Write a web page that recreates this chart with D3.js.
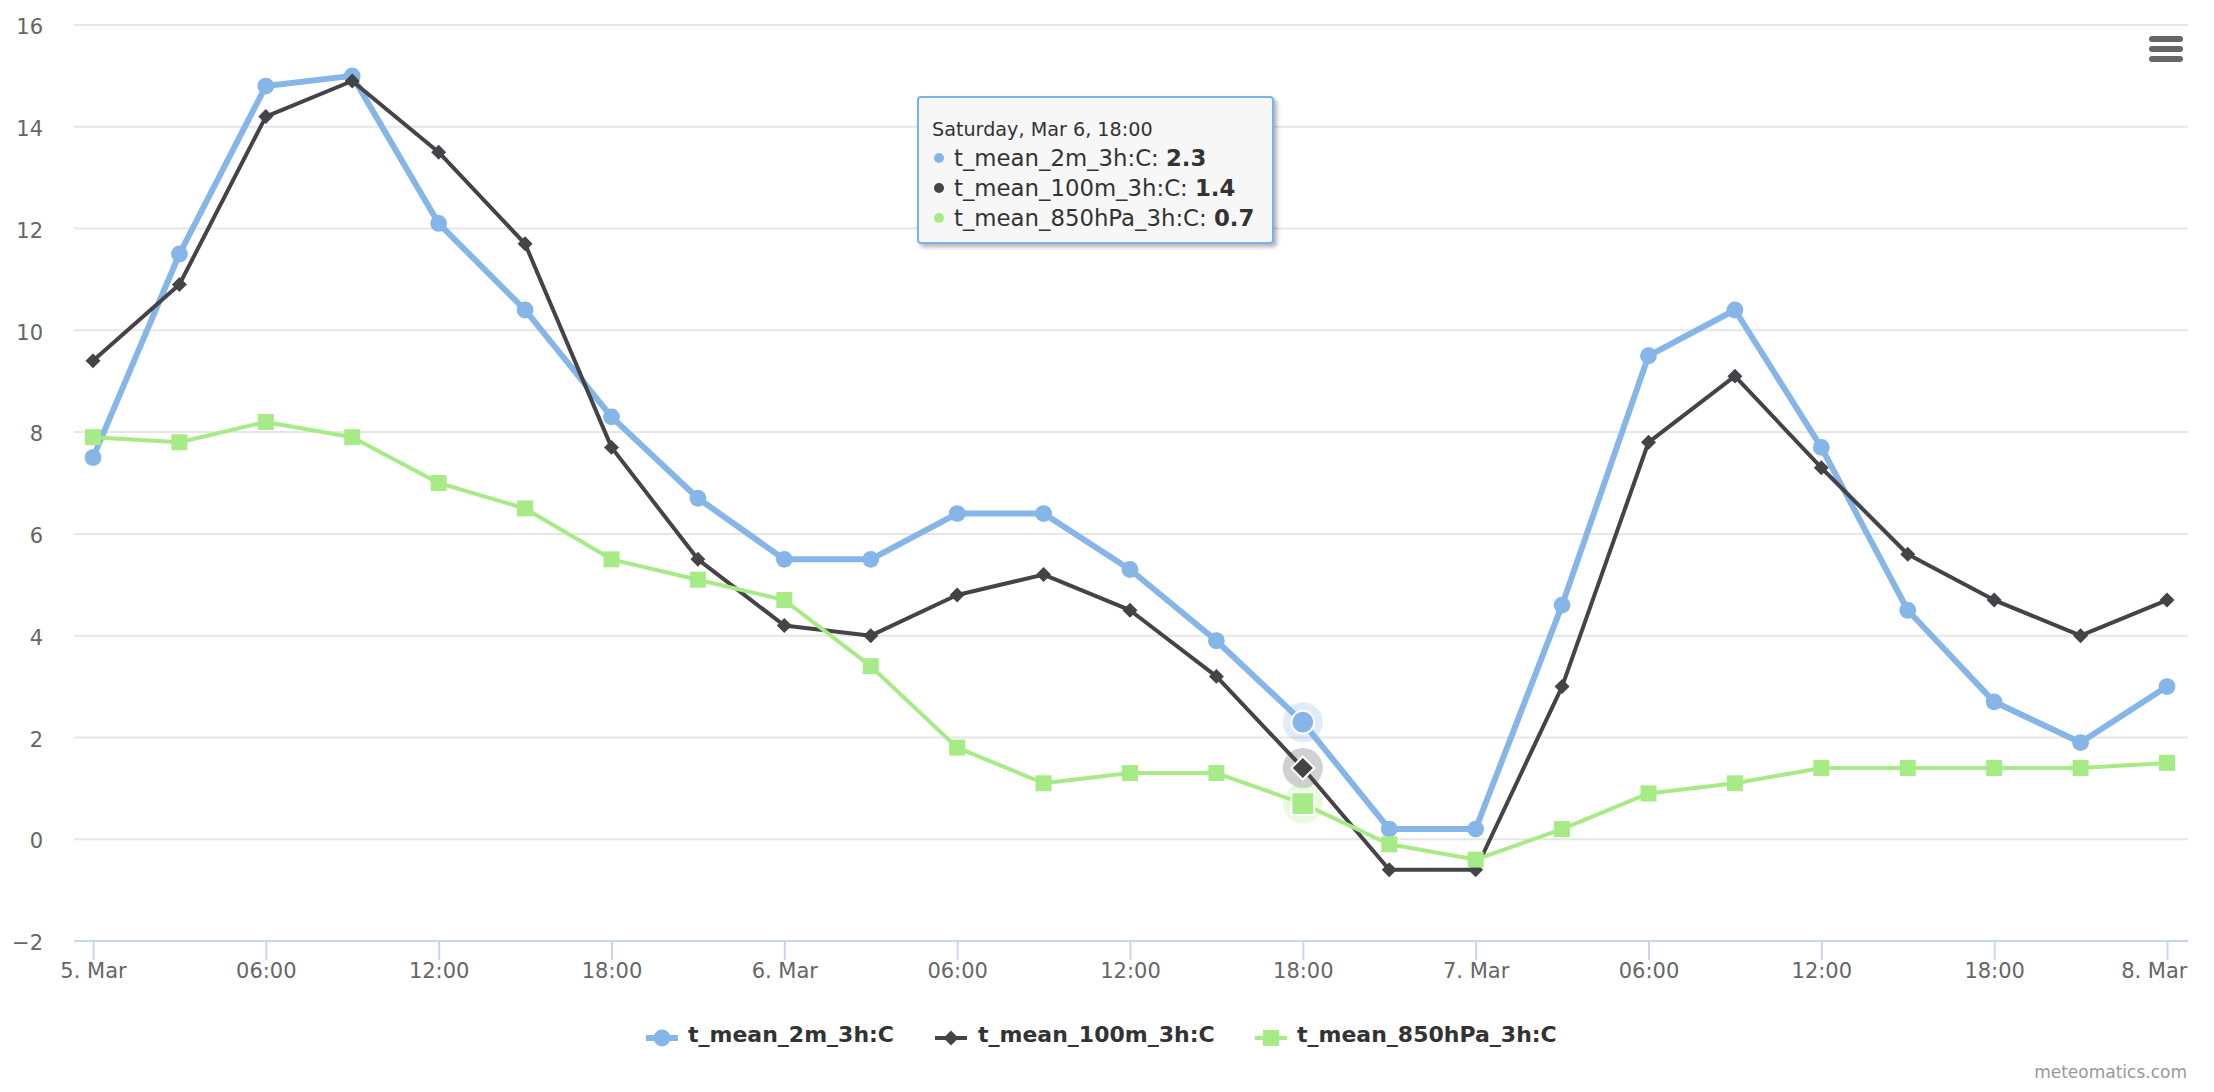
<!DOCTYPE html>
<html><head><meta charset="utf-8">
<script src="https://cdn.jsdelivr.net/npm/d3@7"></script>
<style>
html,body{margin:0;padding:0;background:#fff;overflow:hidden}
svg{display:block}
text{font-family:"DejaVu Sans",sans-serif}
</style></head><body>
<svg id="c" width="2214" height="1092"></svg>
<script>
const hours=[0,3,6,9,12,15,18,21,24,27,30,33,36,39,42,45,48,51,54,57,60,63,66,69,72];
const t2m=[7.5,11.5,14.8,15.0,12.1,10.4,8.3,6.7,5.5,5.5,6.4,6.4,5.3,3.9,2.3,0.2,0.2,4.6,9.5,10.4,7.7,4.5,2.7,1.9,3.0];
const t100m=[9.4,10.9,14.2,14.9,13.5,11.7,7.7,5.5,4.2,4.0,4.8,5.2,4.5,3.2,1.4,-0.6,-0.6,3.0,7.8,9.1,7.3,5.6,4.7,4.0,4.7];
const t850=[7.9,7.8,8.2,7.9,7.0,6.5,5.5,5.1,4.7,3.4,1.8,1.1,1.3,1.3,0.7,-0.1,-0.4,0.2,0.9,1.1,1.4,1.4,1.4,1.4,1.5];
const seriesNames=["t_mean_2m_3h:C","t_mean_100m_3h:C","t_mean_850hPa_3h:C"];
const xTickHours=[0,6,12,18,24,30,36,42,48,54,60,66,72];
const xTickLabels=["5. Mar","06:00","12:00","18:00","6. Mar","06:00","12:00","18:00","7. Mar","06:00","12:00","18:00","8. Mar"];
const yTicks=[-2,0,2,4,6,8,10,12,14,16];
const tooltipTitle="Saturday, Mar 6, 18:00";
const hoverHour=42;
const credit="meteomatics.com";

const colors=["#86b5e8","#434348","#a6eb85"];
const widths=[6,4,4];
const shapes=[d3.symbolCircle,d3.symbolDiamond2,d3.symbolSquare];
const values=[t2m,t100m,t850];

const svg=d3.select("#c");
const x=d3.scaleLinear().domain([0,72]).range([93,2167]);
const y=d3.scaleLinear().domain([-2,16]).range([941,25]);

// grid + y axis
const yAxis=d3.axisLeft(y).tickValues(yTicks).tickSize(0).tickPadding(0).tickFormat(d=>d<0?"\u2212"+Math.abs(d):d);
const gy=svg.append("g").attr("transform","translate(43,2)").call(yAxis);
gy.select(".domain").remove();
gy.selectAll("text").attr("font-size",21).attr("fill","#666").attr("font-family","DejaVu Sans");
svg.append("g").selectAll("line").data(yTicks.filter(d=>d>-2)).join("line")
 .attr("x1",74).attr("x2",2188).attr("y1",d=>y(d)).attr("y2",d=>y(d))
 .attr("stroke","#e6e6e6").attr("stroke-width",2);

// x axis
const xAxis=d3.axisBottom(x).tickValues(xTickHours).tickSize(19).tickPadding(3)
 .tickFormat((d,i)=>xTickLabels[i]);
const gx=svg.append("g").attr("transform","translate(0,941)").call(xAxis);
gx.select(".domain").remove();
gx.selectAll("line").attr("stroke","#ccd6eb").attr("stroke-width",2);
gx.selectAll("text").attr("font-size",21).attr("fill","#666").attr("font-family","DejaVu Sans");
gx.selectAll("text").filter(d=>d===72).attr("text-anchor","end").attr("x",2187-x(72));
svg.append("line").attr("x1",74).attr("x2",2188).attr("y1",941).attr("y2",941)
 .attr("stroke","#ccd6eb").attr("stroke-width",2);

const sizes=[222,143,256];
const line=d3.line().x((d,i)=>x(hours[i])).y(d=>y(d));
values.forEach((vals,s)=>{
  const g=svg.append("g");
  g.append("path").datum(vals).attr("d",line).attr("fill","none")
   .attr("stroke",colors[s]).attr("stroke-width",widths[s]).attr("stroke-linejoin","round");
  g.selectAll("path.m").data(vals).join("path").attr("class","m")
   .attr("transform",(d,i)=>`translate(${x(hours[i])},${y(d)})`)
   .attr("d",d3.symbol().type(shapes[s]).size(sizes[s])())
   .attr("fill",colors[s]);
});
// hover state
const hi=hours.indexOf(hoverHour);
const haloR=[20,20,20], hoverSizes=[410,337,520];
values.forEach((vals,s)=>{
  svg.append("circle").attr("cx",x(hoverHour)).attr("cy",y(vals[hi])).attr("r",haloR[s])
   .attr("fill",colors[s]).attr("opacity",0.25);
});
values.forEach((vals,s)=>{
  svg.append("path").attr("transform",`translate(${x(hoverHour)},${y(vals[hi])})`)
   .attr("d",d3.symbol().type(shapes[s]).size(hoverSizes[s])())
   .attr("fill",colors[s]).attr("stroke","#fff").attr("stroke-width",2);
});

// menu button
[36,46,56].forEach(v=>svg.append("rect").attr("x",2149).attr("y",v).attr("width",34).attr("height",6).attr("rx",3).attr("fill","#666"));

// legend
const legendX=[646,935,1255], legendTextX=[688,978,1297];
seriesNames.forEach((n,s)=>{
  svg.append("line").attr("x1",legendX[s]).attr("x2",legendX[s]+32).attr("y1",1038).attr("y2",1038)
   .attr("stroke",colors[s]).attr("stroke-width",widths[s]);
  svg.append("path").attr("transform",`translate(${legendX[s]+16},1038)`)
   .attr("d",d3.symbol().type(shapes[s]).size(sizes[s])()).attr("fill",colors[s]);
  svg.append("text").attr("x",legendTextX[s]).attr("y",1042).text(n)
   .attr("font-size",22).attr("font-weight","bold").attr("fill","#333");
});

// credit
svg.append("text").attr("x",2187).attr("y",1078).attr("text-anchor","end").text(credit)
 .attr("font-size",17).attr("fill","#999");

// tooltip
const defs=svg.append("defs");
const f=defs.append("filter").attr("id","sh").attr("x","-5%").attr("y","-5%").attr("width","110%").attr("height","115%");
f.append("feDropShadow").attr("dx",3).attr("dy",3).attr("stdDeviation",2).attr("flood-color","#000").attr("flood-opacity",0.3);
svg.append("rect").attr("x",918).attr("y",97).attr("width",355).attr("height",146).attr("rx",3)
 .attr("fill","#f7f7f7").attr("stroke","#7cb0e8").attr("stroke-width",2).attr("filter","url(#sh)");
svg.append("text").attr("x",932).attr("y",136).text(tooltipTitle).attr("font-size",19.2).attr("fill","#333");
const rowY=[166,196,226];
seriesNames.forEach((n,s)=>{
  svg.append("circle").attr("cx",939).attr("cy",rowY[s]-8).attr("r",5).attr("fill",colors[s]);
  const t=svg.append("text").attr("x",954).attr("y",rowY[s]).attr("font-size",22.8).attr("fill","#333");
  t.append("tspan").text(n+": ");
  t.append("tspan").attr("font-weight","bold").text(values[s][hi].toFixed(1));
});
</script></body></html>
